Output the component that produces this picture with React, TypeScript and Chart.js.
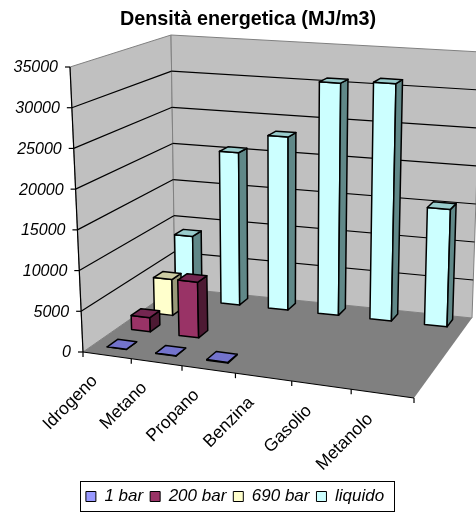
import { useEffect, useRef } from "react";
import { Chart, registerables } from "chart.js";

Chart.register(...registerables);

const categories = ["Idrogeno", "Metano", "Propano", "Benzina", "Gasolio", "Metanolo"];
const seriesNames = ["1 bar", "200 bar", "690 bar", "liquido"];
const oneBar = [10, 36, 90, null, null, null];
const twoHundredBar = [1800, 7000, null, null, null, null];
const sixNinetyBar = [4700, null, null, null, null, null];
const liquid = [8600, 20400, 23000, 30600, 31000, 15200];
const frontColors = ["#9999ff", "#993366", "#ffffcc", "#ccffff"];
const topColors = ["#7373cc", "#732650", "#cccca3", "#99cccc"];
const sideColors = ["#4d4d80", "#4d1a33", "#999979", "#608888"];

const FONT = '"Liberation Sans", Arial, sans-serif';
const BAR_DEPTH = 0.42;
const ROW_CENTER = 0.6;

type P = [number, number];

// Perspective map of the unit square onto a quad (front-left, front-right, back-right, back-left).
function quadMap([a, b, c, d]: P[]) {
  const dx1 = b[0] - c[0], dx2 = d[0] - c[0], sx = a[0] - b[0] + c[0] - d[0];
  const dy1 = b[1] - c[1], dy2 = d[1] - c[1], sy = a[1] - b[1] + c[1] - d[1];
  const den = dx1 * dy2 - dx2 * dy1;
  const g = (sx * dy2 - dx2 * sy) / den;
  const h = (dx1 * sy - sx * dy1) / den;
  return (u: number, v: number): P => {
    const w = g * u + h * v + 1;
    return [
      ((b[0] - a[0] + g * b[0]) * u + (d[0] - a[0] + h * d[0]) * v + a[0]) / w,
      ((b[1] - a[1] + g * b[1]) * u + (d[1] - a[1] + h * d[1]) * v + a[1]) / w,
    ];
  };
}

// Camera used to lay the plot box out on the canvas: its floor and its ceiling.
const floorMap = quadMap([[83, 352], [414, 398], [472, 318], [175, 288]]);
const ceilingMap = quadMap([[70, 67], [420, 93], [481, 52], [171, 35]]);

function project(u: number, depth: number, height: number): P {
  const f = floorMap(u, depth);
  const c = ceilingMap(u, depth);
  return [f[0] + (c[0] - f[0]) * height, f[1] + (c[1] - f[1]) * height];
}

function polygon(ctx: CanvasRenderingContext2D, pts: P[], fill: string | null, stroke: string | null, width = 1) {
  ctx.beginPath();
  pts.forEach((p, i) => (i ? ctx.lineTo(p[0], p[1]) : ctx.moveTo(p[0], p[1])));
  ctx.closePath();
  if (fill) {
    ctx.fillStyle = fill;
    ctx.fill();
  }
  if (stroke) {
    ctx.strokeStyle = stroke;
    ctx.lineWidth = width;
    ctx.stroke();
  }
}

function line(ctx: CanvasRenderingContext2D, a: P, b: P, color: string, width = 1.2) {
  ctx.beginPath();
  ctx.moveTo(a[0], a[1]);
  ctx.lineTo(b[0], b[1]);
  ctx.strokeStyle = color;
  ctx.lineWidth = width;
  ctx.stroke();
}

const box3d = {
  id: "box3d",
  beforeDatasetsDraw(chart: any) {
    const { ctx, chartArea: area, scales } = chart;
    const { x: xScale, y: yScale } = scales;
    const toH = (px: number) => (area.bottom - px) / area.height;
    const toU = (px: number) => (px - area.left) / area.width;

    ctx.save();
    ctx.lineJoin = "round";

    // Walls and floor
    polygon(ctx, [project(0, 0, 0), project(0, 1, 0), project(0, 1, 1), project(0, 0, 1)], "#c0c0c0", "#808080");
    polygon(ctx, [project(0, 1, 0), project(1, 1, 0), project(1, 1, 1), project(0, 1, 1)], "#c0c0c0", "#808080");
    polygon(ctx, [project(0, 0, 0), project(1, 0, 0), project(1, 1, 0), project(0, 1, 0)], "#808080", null);

    // Gridlines and value labels
    ctx.font = `italic 16px ${FONT}`;
    ctx.textAlign = "right";
    ctx.textBaseline = "middle";
    for (const tick of yScale.ticks) {
      const h = toH(yScale.getPixelForValue(tick.value));
      const a = project(0, 0, h);
      const top = tick.value === yScale.max;
      if (tick.value > 0 && !top) {
        line(ctx, a, project(0, 1, h), "#000");
        line(ctx, project(0, 1, h), project(1, 1, h), "#000");
      }
      line(ctx, a, [a[0] - 5, a[1]], "#000");
      ctx.fillStyle = "#000";
      ctx.fillText(String(tick.value), a[0] - 12, a[1] + 1);
    }

    // Axes
    line(ctx, project(0, 0, 0), project(0, 0, 1), "#000");
    line(ctx, project(0, 0, 0), project(1, 0, 0), "#000");
    const n = categories.length;
    for (let i = 0; i <= n; i++) {
      const p = project(i / n, 0, 0);
      line(ctx, p, [p[0], p[1] + 5], "#000");
    }

    // Category labels
    ctx.font = `17.5px ${FONT}`;
    categories.forEach((_, i) => {
      const u = toU(xScale.getPixelForValue(i));
      const p = project(u, 0, 0);
      ctx.save();
      ctx.translate(p[0] - 12, p[1] + 23);
      ctx.rotate(-Math.PI / 4);
      ctx.textAlign = "right";
      ctx.fillStyle = "#000";
      ctx.fillText(xScale.getLabelForValue(i), 0, 0);
      ctx.restore();
    });

    // Columns, back row first
    for (let s = chart.data.datasets.length - 1; s >= 0; s--) {
      const meta = chart.getDatasetMeta(s);
      const d0 = (s + ROW_CENTER - BAR_DEPTH / 2) / 4;
      const d1 = (s + ROW_CENTER + BAR_DEPTH / 2) / 4;
      meta.data.forEach((el: any, i: number) => {
        if (chart.data.datasets[s].data[i] == null) return;
        const u0 = toU(el.x - el.width / 2);
        const u1 = toU(el.x + el.width / 2);
        const h = toH(el.y);
        polygon(ctx, [project(u0, d0, 0), project(u1, d0, 0), project(u1, d0, h), project(u0, d0, h)], frontColors[s], "#000", 1.5);
        polygon(ctx, [project(u1, d0, 0), project(u1, d1, 0), project(u1, d1, h), project(u1, d0, h)], sideColors[s], "#000", 1.5);
        polygon(ctx, [project(u0, d0, h), project(u1, d0, h), project(u1, d1, h), project(u0, d1, h)], topColors[s], "#000", 1.5);
      });
    }
    ctx.restore();
    return false;
  },
  afterDraw(chart: any) {
    const boxes = chart.legend.legendHitBoxes;
    const left = boxes[0].left - 6;
    const last = boxes[boxes.length - 1];
    const right = last.left + last.width + 10;
    const { ctx } = chart;
    ctx.save();
    ctx.strokeStyle = "#000";
    ctx.lineWidth = 1;
    ctx.strokeRect(Math.round(left) + 0.5, chart.legend.top + 0.5, Math.round(right - left), 30);
    ctx.restore();
  },
};

export default function App() {
  const ref = useRef<HTMLCanvasElement>(null);
  useEffect(() => {
    const values = [oneBar, twoHundredBar, sixNinetyBar, liquid];
    const chart = new Chart(ref.current!, {
      type: "bar",
      data: {
        labels: categories,
        datasets: seriesNames.map((label, i) => ({
          label,
          data: values[i],
          backgroundColor: frontColors[i],
          borderColor: "#000",
          borderWidth: 1,
          grouped: false,
          categoryPercentage: 1,
          barPercentage: 0.4,
        })),
      } as any,
      options: {
        responsive: false,
        animation: false,
        events: [],
        layout: { padding: { right: 6 } },
        scales: {
          x: { display: false },
          y: {
            min: 0,
            max: 35000,
            ticks: { stepSize: 5000, display: false },
            grid: { display: false },
            border: { display: false },
            afterFit(scale: any) {
              scale.width = 26;
            },
          },
        },
        plugins: {
          tooltip: { enabled: false },
          title: {
            display: true,
            text: "Densità energetica (MJ/m3)",
            fullSize: false,
            color: "#000",
            font: { family: FONT, size: 19.8, weight: "bold" },
            padding: { top: 8, bottom: 4 },
          },
          legend: {
            position: "bottom",
            labels: {
              boxWidth: 10,
              boxHeight: 10,
              padding: 7,
              color: "#000",
              font: { family: FONT, size: 17, style: "italic" },
            },
          },
        },
      } as any,
      plugins: [box3d] as any,
    });
    return () => chart.destroy();
  }, []);
  return (
    <div style={{ position: "absolute", left: 0, top: 0, width: 476, height: 515, overflow: "hidden", background: "#fff" }}>
      <canvas ref={ref} width={476} height={515} style={{ display: "block" }} />
    </div>
  );
}
